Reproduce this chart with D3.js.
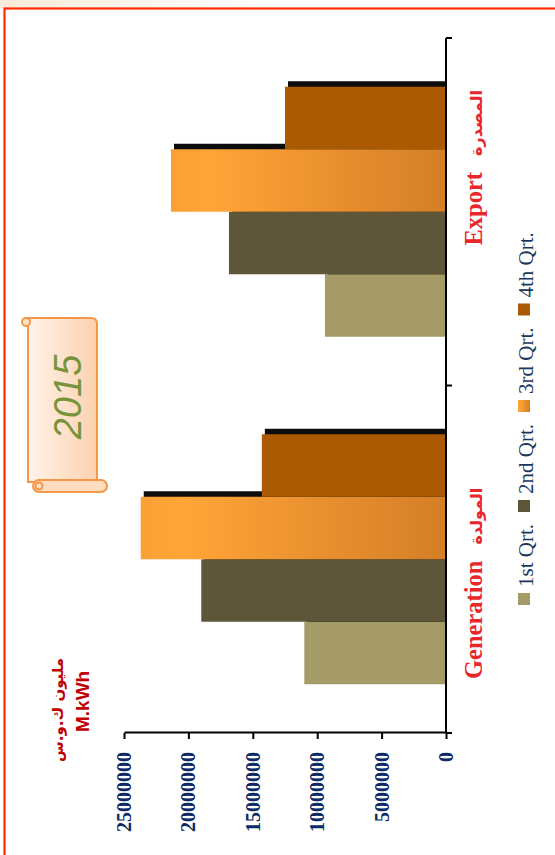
<!DOCTYPE html>
<html>
<head>
<meta charset="utf-8">
<script src="https://cdn.jsdelivr.net/npm/d3@7"></script>
<style>
  html, body { margin: 0; padding: 0; background: #ffffff; }
  svg { display: block; }
</style>
</head>
<body>
<script>
// ---------------- DATA ----------------
const categories = ["Generation", "Export"];
const categoryArabic = ["المولدة", "المصدرة"];
const quarters = ["1st Qrt.", "2nd Qrt.", "3rd Qrt.", "4th Qrt."];
const qrt1 = [11000000, 9400000];
const qrt2 = [19000000, 16850000];
const qrt3 = [23700000, 21350000];
const qrt4 = [14300000, 12500000];
const seriesValues = [qrt1, qrt2, qrt3, qrt4];
const valueTicks = [0, 5000000, 10000000, 15000000, 20000000, 25000000];
const unitArabic = "مليون ك.و.س";
const unitLatin = "M.kWh";
const yearLabel = "2015";

// ---------------- SETUP ----------------
const W = 555, H = 855;
const svg = d3.select("body").append("svg").attr("width", W).attr("height", H);
const defs = svg.append("defs");

const g3 = defs.append("linearGradient").attr("id", "grad3")
  .attr("x1", 0).attr("y1", 0).attr("x2", 0).attr("y2", 1);
g3.append("stop").attr("offset", "0").attr("stop-color", "#FBA034");
g3.append("stop").attr("offset", "0.15").attr("stop-color", "#FFA437");
g3.append("stop").attr("offset", "1").attr("stop-color", "#D47E27");

const gScroll = defs.append("linearGradient").attr("id", "gradScroll")
  .attr("x1", 0).attr("y1", 0).attr("x2", 1).attr("y2", 0);
gScroll.append("stop").attr("offset", "0").attr("stop-color", "#FFF3EA");
gScroll.append("stop").attr("offset", "1").attr("stop-color", "#FBD2AE");

const gTop = defs.append("linearGradient").attr("id", "gradTop")
  .attr("x1", 0).attr("y1", 0).attr("x2", 1).attr("y2", 0);
gTop.append("stop").attr("offset", "0").attr("stop-color", "#FBEBD8");
gTop.append("stop").attr("offset", "0.5").attr("stop-color", "#FFFFFF");

const blur = defs.append("filter").attr("id", "shadowBlur")
  .attr("x", "-10%").attr("y", "-10%").attr("width", "120%").attr("height", "120%");
blur.append("feGaussianBlur").attr("stdDeviation", 0.7);

// background + frame
svg.append("rect").attr("x", 0).attr("y", 0).attr("width", W).attr("height", 8)
  .attr("fill", "url(#gradTop)");
svg.append("rect").attr("x", 4.5).attr("y", 8.5).attr("width", 620).attr("height", 900)
  .attr("fill", "#ffffff").attr("stroke", "#FF2A00").attr("stroke-width", 2.2);

// ---------------- CHART (drawn in original orientation, rotated -90deg) ----------------
const g = svg.append("g").attr("transform", `translate(0,${H}) rotate(-90)`);

const x0 = d3.scaleBand().domain(categories).range([122, 817]);
const x1 = d3.scaleBand().domain(quarters).range([0, x0.bandwidth()])
  .paddingInner(0).paddingOuter(0.78);
const y = d3.scaleLinear().domain([0, 25000000]).range([446, 124]);

defs.append("clipPath").attr("id", "plotClip").append("rect")
  .attr("x", x0.range()[0]).attr("y", 0)
  .attr("width", x0.range()[1] - x0.range()[0] + 10).attr("height", y(0));

const colors = ["#A59B66", "#5D5638", "url(#grad3)", "#AA5A00"];

const barsG = g.append("g").attr("clip-path", "url(#plotClip)");
quarters.forEach((q, i) => {
  const vals = seriesValues[i];
  const sg = barsG.append("g");
  // shadow
  sg.selectAll("rect.sh").data(vals).join("rect").attr("class", "sh")
    .attr("x", (d, j) => x0(categories[j]) + x1(q) + 5.5)
    .attr("y", d => y(d) + 3)
    .attr("width", x1.bandwidth())
    .attr("height", d => y(0) - y(d))
    .attr("fill", "#000").attr("opacity", 0.95)
    .attr("filter", "url(#shadowBlur)");
  // bar
  sg.selectAll("rect.bar").data(vals).join("rect").attr("class", "bar")
    .attr("x", (d, j) => x0(categories[j]) + x1(q))
    .attr("y", d => y(d))
    .attr("width", x1.bandwidth())
    .attr("height", d => y(0) - y(d))
    .attr("fill", colors[i]);
});

// value axis
const yAxis = g.append("g").attr("transform", `translate(${x0.range()[0]},0)`)
  .call(d3.axisLeft(y).tickValues(valueTicks).tickSize(6).tickSizeOuter(0)
    .tickPadding(13).tickFormat(d3.format("d")));
yAxis.select(".domain").attr("stroke", "#000").attr("stroke-width", 2);
yAxis.selectAll(".tick line").attr("stroke", "#000").attr("stroke-width", 2);
yAxis.selectAll(".tick text")
  .attr("font-family", "'Liberation Serif', 'Times New Roman', serif")
  .attr("font-weight", "bold").attr("font-size", 20).attr("fill", "#0D2B66");

// category axis
const catAxis = g.append("g");
catAxis.append("line")
  .attr("x1", x0.range()[0]).attr("x2", x0.range()[1])
  .attr("y1", y(0)).attr("y2", y(0))
  .attr("stroke", "#000").attr("stroke-width", 2);
const edges = categories.map(c => x0(c)).concat([x0.range()[1]]);
catAxis.selectAll("line.tk").data(edges).join("line").attr("class", "tk")
  .attr("x1", d => d).attr("x2", d => d)
  .attr("y1", y(0)).attr("y2", y(0) + 6)
  .attr("stroke", "#000").attr("stroke-width", 2);

// category labels
const labelOffsets = [54, 140];
categories.forEach((c, j) => {
  const t = g.append("text")
    .attr("x", x0(c) + labelOffsets[j]).attr("y", y(0) + 36)
    .attr("fill", "#E8262B");
  t.append("tspan").text(c)
    .attr("font-family", "'Liberation Serif', 'Times New Roman', serif")
    .attr("font-weight", "bold").attr("font-size", 24.5);
  t.append("tspan").text(categoryArabic[j]).attr("dx", 16)
    .attr("font-family", "'DejaVu Sans', sans-serif")
    .attr("font-weight", "bold")
    .attr("font-size", 16);
});

// legend
const legend = g.append("g");
let lx = 250;
quarters.forEach((q, i) => {
  legend.append("rect").attr("x", lx).attr("y", 518).attr("width", 12).attr("height", 12)
    .attr("fill", colors[i]);
  const t = legend.append("text").attr("x", lx + 18).attr("y", 533).text(q)
    .attr("font-family", "'Liberation Serif', 'Times New Roman', serif")
    .attr("font-size", 21).attr("fill", "#17375E");
  lx += 18 + t.node().getComputedTextLength() + 12;
});

// unit labels
g.append("text").attr("x", 123).attr("y", 89).text(unitLatin)
  .attr("font-family", "'Liberation Sans', Arial, sans-serif")
  .attr("font-weight", "bold").attr("font-size", 19).attr("fill", "#C00000");
g.append("text").attr("x", 93).attr("y", 63).text(unitArabic)
  .attr("font-family", "'DejaVu Sans', sans-serif")
  .attr("font-weight", "bold").attr("font-size", 15).attr("fill", "#C00000");

// ---------------- SCROLL "2015" (screen coordinates) ----------------
const sc = svg.append("g").attr("stroke", "#F79646").attr("stroke-width", 2);
sc.append("path")
  .attr("d", "M28,324 L28,482 L97,482 L97,324 Q97,318 91,318 L28,318 Z")
  .attr("fill", "url(#gradScroll)");
sc.append("circle").attr("cx", 26).attr("cy", 322).attr("r", 4).attr("fill", "#FDE3CC");
sc.append("rect").attr("x", 33).attr("y", 480).attr("width", 74).attr("height", 12)
  .attr("rx", 6).attr("fill", "#FDDCC0");
sc.append("circle").attr("cx", 39).attr("cy", 486).attr("r", 3.5).attr("fill", "#FDE3CC");
svg.append("text").attr("transform", "translate(81,397) rotate(-90)")
  .attr("text-anchor", "middle").text(yearLabel)
  .attr("font-family", "'Liberation Sans', Arial, sans-serif")
  .attr("font-style", "italic").attr("font-size", 38).attr("fill", "#77933C");
</script>
</body>
</html>
